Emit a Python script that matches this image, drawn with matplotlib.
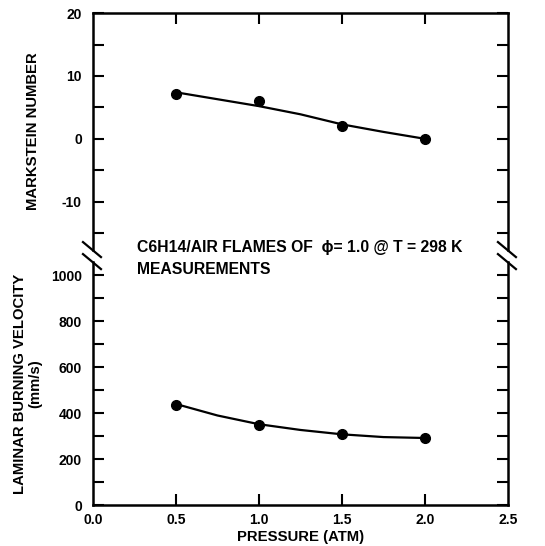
import numpy as np
import matplotlib
matplotlib.use('Agg')
import matplotlib.pyplot as plt

plt.rcParams['font.family'] = ['Liberation Sans', 'DejaVu Sans']
plt.rcParams['font.weight'] = 'bold'

# measured points
pressure = [0.5, 1.0, 1.5, 2.0]
markstein = [7.2, 6.0, 2.1, 0.0]
velocity = [435, 347, 308, 290]

# fitted curves
fit_p = [0.5, 0.75, 1.0, 1.25, 1.5, 1.75, 2.0]
fit_markstein = [7.4, 6.3, 5.2, 3.9, 2.3, 1.1, 0.0]
fit_velocity = [440, 390, 352, 327, 308, 296, 292]

x_labels = ['0.0', '0.5', '1.0', '1.5', '2.0', '2.5']

fig = plt.figure(figsize=(5.45, 5.46), dpi=100)
ax1 = fig.add_axes([0.1706, 0.542, 0.7614, 0.434])
ax2 = fig.add_axes([0.1706, 0.075, 0.7614, 0.445])

lw = 1.8
for ax in (ax1, ax2):
    ax.set_xlim(0, 2.5)
    for s in ax.spines.values():
        s.set_linewidth(lw)
    ax.tick_params(direction='in', length=8, width=1.5, labelsize=10,
                   left=True, right=True, top=False, bottom=False, pad=8)

# top panel
ax1.plot(fit_p, fit_markstein, color='black', lw=1.6)
ax1.plot(pressure, markstein, 'o', color='black', ms=7)
ax1.set_ylim(-17.7, 20)
ax1.set_yticks([-15, -10, -5, 0, 5, 10, 15, 20])
ax1.set_yticklabels(['', '-10', '', '0', '', '10', '', '20'])
ax1.spines['bottom'].set_visible(False)
ax1.set_xticks([0.5, 1.0, 1.5, 2.0])
ax1.tick_params(axis='x', top=True, bottom=False, labeltop=False, labelbottom=False)
ax1.set_ylabel('MARKSTEIN NUMBER', fontsize=10.7, fontweight='bold', labelpad=16)

# bottom panel
ax2.plot(fit_p, fit_velocity, color='black', lw=1.6)
ax2.plot(pressure, velocity, 'o', color='black', ms=7)
ax2.set_ylim(0, 1058)
ax2.set_yticks(np.arange(0, 1001, 100))
ax2.set_yticklabels([str(v) if v % 200 == 0 else '' for v in range(0, 1001, 100)])
ax2.spines['top'].set_visible(False)
ax2.set_xticks([0.0, 0.5, 1.0, 1.5, 2.0, 2.5])
ax2.set_xticklabels(x_labels)
ax2.tick_params(axis='x', bottom=True, length=8, pad=6)
xt = ax2.xaxis.get_major_ticks()
xt[0].tick1line.set_visible(False)
xt[-1].tick1line.set_visible(False)
ax2.set_xlabel('PRESSURE (ATM)', fontsize=10.7, fontweight='bold', labelpad=2)
ax2.set_ylabel('LAMINAR BURNING VELOCITY\n(mm/s)', fontsize=10.7, fontweight='bold',
               labelpad=6, linespacing=1.1)

# axis break marks, "\" shaped across each spine end
for ax, yb in ((ax1, 0.0), (ax2, 1.0)):
    h = ax.get_position().height * 546
    w = ax.get_position().width * 545
    for xb in (0.0, 1.0):
        ax.plot([xb - 10 / w, xb + 8 / w], [yb + 8 / h, yb - 7 / h],
                transform=ax.transAxes, color='black', lw=1.6, clip_on=False)

fig.text(0.251, 0.546, 'C6H14/AIR FLAMES OF  \u03d5= 1.0 @ T = 298 K', fontsize=11.3,
         fontweight='bold', va='center')
fig.text(0.251, 0.5055, 'MEASUREMENTS', fontsize=11.3, fontweight='bold', va='center')

fig.savefig('out.png', dpi=100)
